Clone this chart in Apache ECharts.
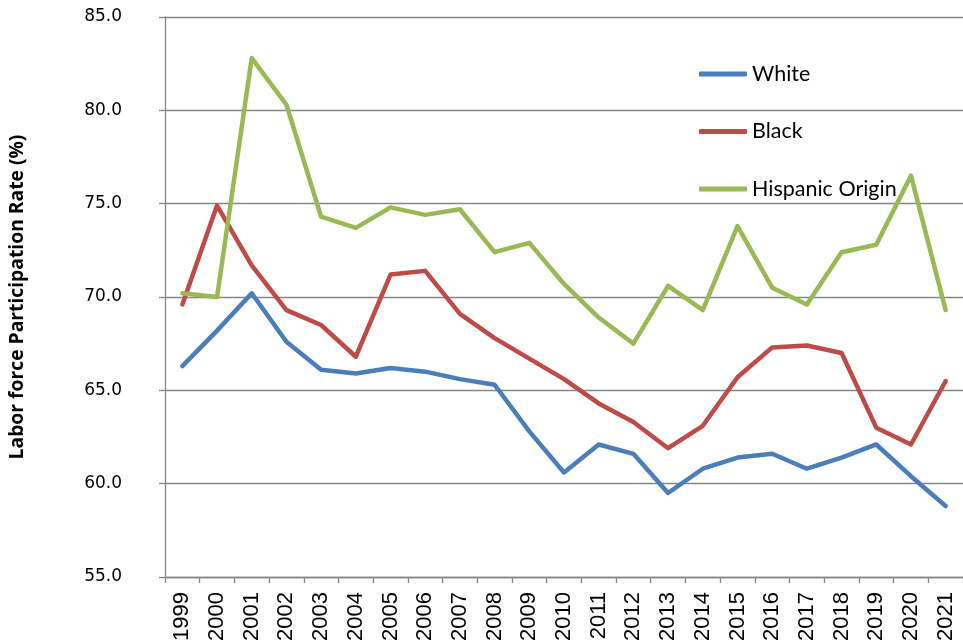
<!DOCTYPE html>
<html>
<head>
<meta charset="utf-8">
<script src="https://cdn.jsdelivr.net/npm/echarts@6/dist/echarts.min.js"></script>
<style>
html,body{margin:0;padding:0;background:#fff;}
#chart{width:963px;height:644px;}
</style>
</head>
<body>
<div id="chart"></div>
<script>
const years = ['1999','2000','2001','2002','2003','2004','2005','2006','2007','2008','2009','2010','2011','2012','2013','2014','2015','2016','2017','2018','2019','2020','2021'];
const white = [66.3,68.2,70.2,67.6,66.1,65.9,66.2,66.0,65.6,65.3,62.8,60.6,62.1,61.6,59.5,60.8,61.4,61.6,60.8,61.4,62.1,60.4,58.8];
const black = [69.6,74.9,71.7,69.3,68.5,66.8,71.2,71.4,69.1,67.8,66.7,65.6,64.3,63.3,61.9,63.1,65.7,67.3,67.4,67.0,63.0,62.1,65.5];
const hispanic = [70.2,70.0,82.8,80.3,74.3,73.7,74.8,74.4,74.7,72.4,72.9,70.7,68.9,67.5,70.6,69.3,73.8,70.5,69.6,72.4,72.8,76.5,69.3];
const seriesNames = ['White','Black','Hispanic Origin'];
const colors = ['#4A7EBB','#BE4B48','#98B954'];

const chart = echarts.init(document.getElementById('chart'));
const mk = (name, data, color) => ({
  name, type:'line', data, symbol:'none', smooth:false,
  lineStyle:{width:4.5, color, cap:'round', join:'round'},
  itemStyle:{color}
});
chart.setOption({
  animation:false,
  backgroundColor:'#ffffff',
  grid:{left:157, top:17, width:811, height:560},
  legend:{
    orient:'vertical', left:694, top:58,
    itemWidth:48, itemHeight:5, itemGap:35.5,
    icon:'roundRect',
    textStyle:{fontFamily:'Lato', fontSize:21.5, color:'#000'},
    data:seriesNames
  },
  xAxis:{
    type:'category', data:years, boundaryGap:true,
    axisLine:{lineStyle:{color:'#868686', width:1.3}},
    axisTick:{show:true, length:6, alignWithLabel:false, lineStyle:{color:'#868686', width:1.3}},
    axisLabel:{rotate:90, margin:15, fontFamily:'Liberation Sans', fontSize:22, color:'#000', interval:0}
  },
  yAxis:{
    type:'value', min:55, max:85, interval:5,
    name:'Labor force Participation Rate (%)', nameLocation:'middle', nameGap:138,
    nameTextStyle:{fontFamily:'Open Sans', fontWeight:'bold', fontSize:19.3, color:'#000'},
    axisLine:{show:true, lineStyle:{color:'#868686', width:1.3}},
    axisTick:{show:true, length:6, lineStyle:{color:'#868686', width:1.3}},
    splitLine:{lineStyle:{color:'#868686', width:1.3}},
    axisLabel:{margin:43, fontFamily:'DejaVu Sans', fontSize:17, color:'#000', formatter:v=>v.toFixed(1)}
  },
  series:[mk(seriesNames[0], white, colors[0]), mk(seriesNames[1], black, colors[1]), mk(seriesNames[2], hispanic, colors[2])]
});
</script>
</body>
</html>
